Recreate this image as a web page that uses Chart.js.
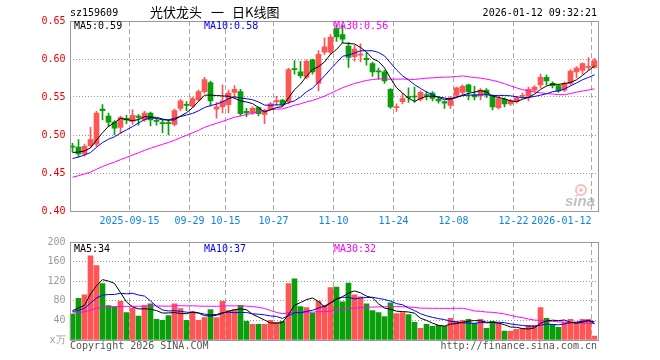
<!DOCTYPE html>
<html>
<head>
<meta charset="utf-8">
<script src="https://cdn.jsdelivr.net/npm/chart.js@4"></script>
<style>
body{margin:0;background:#fff;}
#wrap{position:relative;width:660px;height:360px;overflow:hidden;background:#fff;}
canvas{position:absolute;left:0;}
.t{position:absolute;font:10px 'DejaVu Sans Mono',monospace;line-height:12px;white-space:pre;}
</style>
</head>
<body>
<div id="wrap">
<canvas id="kline" width="660" height="232" style="top:0"></canvas>
<canvas id="vol" width="660" height="128" style="top:232px"></canvas>
<div class="t" style="left:70px;top:7px;color:#000">sz159609</div>
<div class="t" style="left:150px;top:5px;font:13px 'Noto Sans CJK SC';line-height:14px;color:#000">光伏龙头<span style="margin:0 8px 0 9px">一</span>日K线图</div>
<div class="t" style="right:63px;top:7px;color:#000">2026-01-12 09:32:21</div>
<div class="t" style="left:70px;top:340px;color:#555">Copyright 2026 SINA.COM</div>
<div class="t" style="right:63px;top:340px;color:#555">http://finance.sina.com.cn</div>
</div>
<script>
// trading days shown
var dates=["2025-09-01","2025-09-02","2025-09-03","2025-09-04","2025-09-05","2025-09-08","2025-09-09","2025-09-10","2025-09-11","2025-09-12",
"2025-09-15","2025-09-16","2025-09-17","2025-09-18","2025-09-19","2025-09-22","2025-09-23","2025-09-24","2025-09-25","2025-09-26",
"2025-09-29","2025-09-30","2025-10-09","2025-10-10","2025-10-13","2025-10-14","2025-10-15","2025-10-16","2025-10-17","2025-10-20",
"2025-10-21","2025-10-22","2025-10-23","2025-10-24","2025-10-27","2025-10-28","2025-10-29","2025-10-30","2025-10-31","2025-11-03",
"2025-11-04","2025-11-05","2025-11-06","2025-11-07","2025-11-10","2025-11-11","2025-11-12","2025-11-13","2025-11-14","2025-11-17",
"2025-11-18","2025-11-19","2025-11-20","2025-11-21","2025-11-24","2025-11-25","2025-11-26","2025-11-27","2025-11-28","2025-12-01",
"2025-12-02","2025-12-03","2025-12-04","2025-12-05","2025-12-08","2025-12-09","2025-12-10","2025-12-11","2025-12-12","2025-12-15",
"2025-12-16","2025-12-17","2025-12-18","2025-12-19","2025-12-22","2025-12-23","2025-12-24","2025-12-25","2025-12-26","2025-12-29",
"2025-12-30","2025-12-31","2026-01-05","2026-01-06","2026-01-07","2026-01-08","2026-01-09","2026-01-12"];

var openP=[0.485,0.484,0.475,0.486,0.488,0.534,0.525,0.517,0.510,0.522,
0.518,0.525,0.520,0.529,0.519,0.516,0.516,0.514,0.535,0.540,
0.538,0.546,0.557,0.569,0.534,0.537,0.540,0.556,0.557,0.531,
0.529,0.536,0.527,0.534,0.544,0.546,0.544,0.587,0.583,0.576,
0.599,0.568,0.609,0.609,0.640,0.632,0.617,0.603,0.605,0.601,
0.594,0.584,0.583,0.560,0.536,0.544,0.551,0.551,0.547,0.553,
0.555,0.547,0.544,0.539,0.552,0.556,0.566,0.553,0.552,0.559,
0.552,0.536,0.547,0.541,0.544,0.551,0.551,0.559,0.566,0.576,
0.568,0.565,0.559,0.568,0.583,0.585,0.589,0.589];
var highP=[0.489,0.494,0.488,0.510,0.531,0.540,0.529,0.519,0.525,0.526,
0.533,0.527,0.531,0.530,0.522,0.520,0.520,0.534,0.547,0.544,
0.550,0.559,0.576,0.571,0.543,0.566,0.559,0.565,0.560,0.535,
0.537,0.537,0.534,0.543,0.551,0.547,0.588,0.598,0.597,0.599,
0.600,0.611,0.628,0.632,0.644,0.645,0.622,0.618,0.620,0.608,
0.596,0.588,0.585,0.561,0.541,0.555,0.562,0.563,0.558,0.557,
0.557,0.550,0.545,0.551,0.563,0.566,0.567,0.564,0.561,0.561,
0.553,0.551,0.549,0.547,0.551,0.555,0.563,0.565,0.580,0.579,
0.570,0.566,0.570,0.586,0.590,0.595,0.602,0.601];
var lowP=[0.478,0.471,0.472,0.484,0.485,0.520,0.511,0.500,0.502,0.515,
0.514,0.513,0.518,0.512,0.513,0.503,0.500,0.512,0.532,0.532,
0.536,0.545,0.555,0.538,0.522,0.529,0.529,0.548,0.525,0.524,
0.527,0.525,0.515,0.533,0.539,0.539,0.541,0.580,0.575,0.574,
0.580,0.558,0.606,0.606,0.623,0.621,0.589,0.597,0.596,0.592,
0.577,0.573,0.568,0.535,0.531,0.541,0.543,0.543,0.545,0.546,
0.545,0.542,0.535,0.535,0.550,0.553,0.546,0.546,0.546,0.549,
0.533,0.534,0.537,0.539,0.542,0.548,0.545,0.557,0.562,0.566,
0.562,0.556,0.557,0.566,0.575,0.580,0.585,0.588];
var closeP=[0.484,0.475,0.485,0.494,0.529,0.532,0.517,0.509,0.523,0.520,
0.526,0.523,0.529,0.520,0.518,0.515,0.515,0.532,0.545,0.539,
0.548,0.557,0.573,0.545,0.537,0.545,0.555,0.560,0.528,0.529,
0.535,0.528,0.532,0.541,0.545,0.540,0.586,0.586,0.578,0.597,
0.583,0.606,0.616,0.629,0.629,0.626,0.602,0.613,0.606,0.599,
0.583,0.583,0.571,0.537,0.537,0.548,0.549,0.550,0.556,0.552,
0.548,0.545,0.542,0.549,0.562,0.564,0.557,0.550,0.559,0.553,
0.537,0.548,0.541,0.545,0.549,0.552,0.560,0.563,0.576,0.571,
0.565,0.558,0.568,0.584,0.588,0.594,0.590,0.598];
// volume, 万
var volume=[53,85,92,172,152,115,70,68,79,56,
65,49,70,74,42,40,50,74,64,40,
58,40,46,62,46,79,60,62,70,38,
32,32,32,40,36,38,115,125,68,66,
55,79,70,107,108,78,116,92,88,74,
60,56,48,76,54,56,52,36,24,32,
28,30,28,44,38,40,42,34,42,24,
38,34,18,18,22,24,30,30,66,44,
32,26,36,42,36,42,42,8];
// sessions before 09-01 (only used for the moving averages)
var closeBefore=[0.415,0.418,0.420,0.417,0.422,0.425,0.428,0.426,0.430,0.432,0.435,0.433,0.437,0.440,0.438,
0.442,0.445,0.443,0.447,0.450,0.455,0.458,0.462,0.460,0.470,0.472,0.478,0.474,0.477];
var volBefore=[48,55,62,50,45,58,60,52,49,57,54,51,56,60,47,53,58,50,52,53,60,52,64,50,54,58,66,55,68];

var tickAt=["2025-09-15","2025-09-29","2025-10-15","2025-10-27","2025-11-10","2025-11-24","2025-12-08","2025-12-22","2026-01-12"];
var tickText=["2025-09-15","09-29","10-15","10-27","11-10","11-24","12-08","12-22","2026-01-12"];
var priceTicks=[0.40,0.45,0.50,0.55,0.60,0.65];
var volTicks=[0,40,80,120,160,200];

var RED="#ff5555", GREEN="#0a9f0a";
var mono="'DejaVu Sans Mono', monospace";
var tickIdx=tickAt.map(function(d){return dates.indexOf(d);});

function movingAvg(before,arr,n){
  var all=before.concat(arr), out=[];
  for(var i=before.length;i<all.length;i++){
    var s=0;
    for(var k=i-n+1;k<=i;k++) s+=all[k];
    out.push(s/n);
  }
  return out;
}
var colors=closeP.map(function(c,i){return c>=openP[i]?RED:GREEN;});

// frame + MA captions inside the plot
var panelText={
  id:'panelText',
  afterDraw:function(chart,args,opts){
    var a=chart.chartArea, ctx=chart.ctx;
    ctx.save();
    ctx.strokeStyle='#999'; ctx.lineWidth=1;
    ctx.strokeRect(Math.round(a.left)+0.5,Math.round(a.top)+0.5,Math.round(a.right-a.left),Math.round(a.bottom-a.top));
    ctx.font='10px '+mono; ctx.textBaseline='middle';
    (opts.items||[]).forEach(function(it){ctx.fillStyle=it.c; ctx.fillText(it.t,it.x,a.top+opts.dy);});
    if(opts.logo){
      ctx.strokeStyle='rgba(240,110,110,0.45)'; ctx.lineWidth=2;
      ctx.beginPath(); ctx.arc(581,190,5,0,Math.PI*2); ctx.stroke();
      ctx.fillStyle='rgba(240,110,110,0.45)';
      ctx.beginPath(); ctx.arc(581,190,2,0,Math.PI*2); ctx.fill();
      ctx.font='italic bold 15px "Liberation Sans"'; ctx.fillStyle='rgba(140,140,140,0.55)';
      ctx.textBaseline='alphabetic'; ctx.fillText('sina',565,206);
    }
    ctx.restore();
  }
};

function xScale(showLabels){
  return {
    offset:true,
    afterFit:function(s){s.height=showLabels?21:20;},
    grid:{offset:true,drawTicks:false,color:function(c){return tickIdx.indexOf(c.index)>=0?'#aaa':'rgba(0,0,0,0)';}},
    border:{display:false,dash:[5,3]},
    ticks:{display:showLabels,autoSkip:false,maxRotation:0,minRotation:0,align:'inner',labelOffset:-3,padding:4,
      color:'#0a86e0',font:{family:mono,size:10},
      callback:function(v,i){var k=tickIdx.indexOf(i);return k>=0?tickText[k]:'';}}
  };
}

new Chart(document.getElementById('kline'),{
  type:'bar',
  data:{
    labels:dates,
    datasets:[
      {type:'line',label:'MA5',data:movingAvg(closeBefore,closeP,5),borderColor:'#000',borderWidth:1,pointRadius:0},
      {type:'line',label:'MA10',data:movingAvg(closeBefore,closeP,10),borderColor:'#0000ff',borderWidth:1,pointRadius:0},
      {type:'line',label:'MA30',data:movingAvg(closeBefore,closeP,30),borderColor:'#ff00ff',borderWidth:1,pointRadius:0},
      {label:'wick',data:lowP.map(function(l,i){return [l,highP[i]];}),backgroundColor:colors,barThickness:1,grouped:false},
      {label:'body',data:openP.map(function(o,i){return [o,closeP[i]];}),backgroundColor:colors,barThickness:5,grouped:false,minBarLength:1}
    ]
  },
  options:{
    responsive:false,animation:false,devicePixelRatio:1,
    layout:{padding:{left:0,right:62.5,top:21,bottom:0}},
    plugins:{legend:{display:false},tooltip:{enabled:false},
      panelText:{dy:5,logo:true,items:[{t:'MA5:0.59',c:'#000',x:74},{t:'MA10:0.58',c:'#0000ff',x:204},{t:'MA30:0.56',c:'#ff00ff',x:334}]}},
    scales:{
      x:xScale(true),
      y:{min:priceTicks[0],max:priceTicks[priceTicks.length-1],
        afterFit:function(s){s.width=69.5;},
        afterBuildTicks:function(s){s.ticks=priceTicks.map(function(v){return {value:v};});},
        grid:{drawTicks:false,color:'#999'},
        border:{display:false,dash:[1,2]},
        ticks:{padding:4,color:'#ee0000',font:{family:mono,size:10},callback:function(v){return v.toFixed(2);}}}
    }
  },
  plugins:[panelText]
});

new Chart(document.getElementById('vol'),{
  type:'bar',
  data:{
    labels:dates,
    datasets:[
      {type:'line',label:'MA5',data:movingAvg(volBefore,volume,5),borderColor:'#000',borderWidth:1,pointRadius:0},
      {type:'line',label:'MA10',data:movingAvg(volBefore,volume,10),borderColor:'#0000ff',borderWidth:1,pointRadius:0},
      {type:'line',label:'MA30',data:movingAvg(volBefore,volume,30),borderColor:'#ff00ff',borderWidth:1,pointRadius:0},
      {label:'vol',data:volume,backgroundColor:colors,barThickness:5}
    ]
  },
  options:{
    responsive:false,animation:false,devicePixelRatio:1,
    layout:{padding:{left:0,right:62.5,top:8,bottom:0}},
    plugins:{legend:{display:false},tooltip:{enabled:false},
      panelText:{dy:7,items:[{t:'MA5:34',c:'#000',x:74},{t:'MA10:37',c:'#0000ff',x:204},{t:'MA30:32',c:'#ff00ff',x:334}]}},
    scales:{
      x:xScale(false),
      y:{min:volTicks[0],max:volTicks[volTicks.length-1],
        afterFit:function(s){s.width=69.5;},
        afterBuildTicks:function(s){s.ticks=volTicks.map(function(v){return {value:v};});},
        grid:{drawTicks:false,color:'#999'},
        border:{display:false,dash:[1,2]},
        ticks:{padding:4,color:'#999',font:{family:mono,size:10},callback:function(v){return v===0?'x万':String(v);}}}
    }
  },
  plugins:[panelText]
});
</script>
</body>
</html>
